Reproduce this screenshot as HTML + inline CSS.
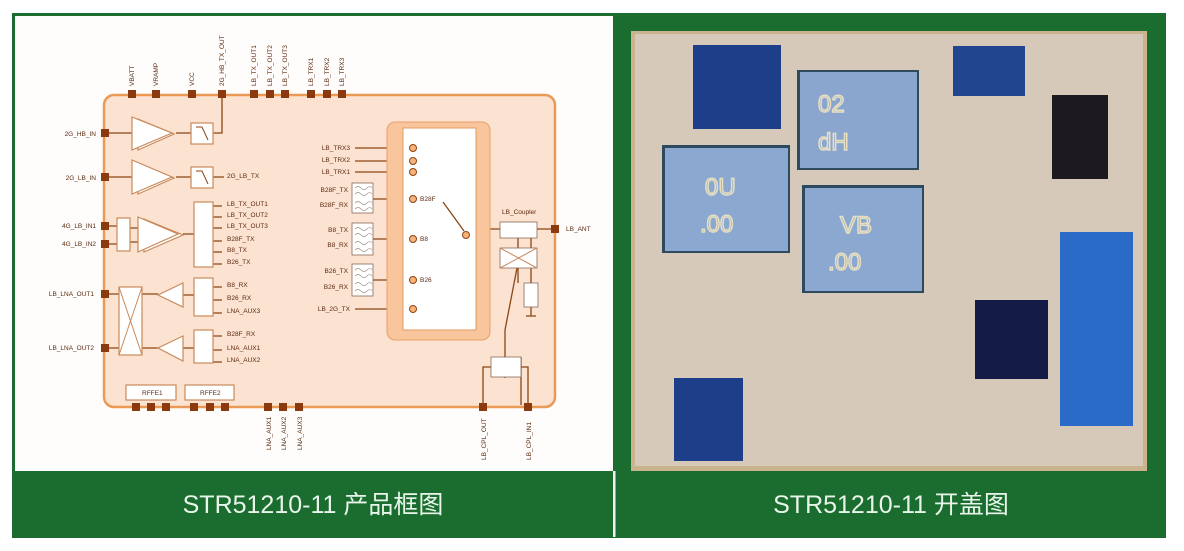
<!DOCTYPE html>
<html><head><meta charset="utf-8"><style>
html,body{margin:0;padding:0;background:#fff;width:1184px;height:551px;overflow:hidden}
svg{display:block}
.t{font-family:"Liberation Sans",sans-serif;font-size:6.5px;fill:#5a2a10}
.cap{font-family:"Liberation Sans","Noto Sans CJK SC",sans-serif;font-size:25px;fill:#e8f5ea}
</style></head><body>
<svg width="1184" height="551" viewBox="0 0 1184 551" xmlns="http://www.w3.org/2000/svg">
<rect x="0" y="0" width="1184" height="551" fill="#fff"/>
<rect x="12" y="13" width="1154" height="525" fill="#1b6d2f"/>
<rect x="15" y="16" width="598" height="455" fill="#fffdfb"/>
<rect x="613" y="471" width="2.5" height="66" fill="#f4f4f4"/>
<text class="cap" x="313" y="513" text-anchor="middle">STR51210-11 产品框图</text>
<text class="cap" x="891" y="513" text-anchor="middle">STR51210-11 开盖图</text>

<!-- photo -->
<rect x="631" y="31" width="516" height="440" fill="#c9b48f"/>
<rect x="635" y="34" width="508" height="432" fill="#d6c9b9"/>
<rect x="693" y="45" width="88" height="84" fill="#1d3f8a"/>
<rect x="797" y="70" width="122" height="100" fill="#2d4a5e"/>
<rect x="800" y="72" width="117" height="96" fill="#8aa6cf"/>
<rect x="662" y="145" width="128" height="108" fill="#2d4a5e"/>
<rect x="665" y="148" width="123" height="103" fill="#8ba8d0"/>
<rect x="802" y="185" width="122" height="108" fill="#2d4a5e"/>
<rect x="805" y="188" width="117" height="103" fill="#8ba8d0"/>
<rect x="953" y="46" width="72" height="50" fill="#22458f"/>
<rect x="1052" y="95" width="56" height="84" fill="#1c1a1e"/>
<rect x="1060" y="232" width="73" height="194" fill="#2a6bc7"/>
<rect x="975" y="300" width="73" height="79" fill="#141b47"/>
<rect x="674" y="378" width="69" height="83" fill="#1d3f8a"/>
<g font-family="Liberation Sans,sans-serif" font-size="24" fill="none" stroke="#e8dfc0" stroke-width="1.5">
<text x="818" y="112">02</text><text x="818" y="150">dH</text>
<text x="705" y="195">0U</text><text x="700" y="232">.00</text>
<text x="840" y="233">VB</text><text x="828" y="270">.00</text>
</g>

<!-- chip -->
<rect x="104" y="95" width="451" height="312" rx="10" fill="#fce2d1" stroke="#ea9a55" stroke-width="2.5"/>
<g fill="#8b3a10">
<rect x="128" y="90" width="8" height="8"/><rect x="152" y="90" width="8" height="8"/><rect x="188" y="90" width="8" height="8"/><rect x="218" y="90" width="8" height="8"/>
<rect x="250" y="90" width="8" height="8"/><rect x="266" y="90" width="8" height="8"/><rect x="281" y="90" width="8" height="8"/>
<rect x="307" y="90" width="8" height="8"/><rect x="323" y="90" width="8" height="8"/><rect x="338" y="90" width="8" height="8"/>
<rect x="101" y="129" width="8" height="8"/><rect x="101" y="173" width="8" height="8"/><rect x="101" y="222" width="8" height="8"/><rect x="101" y="240" width="8" height="8"/><rect x="101" y="290" width="8" height="8"/><rect x="101" y="344" width="8" height="8"/>
<rect x="132" y="403" width="8" height="8"/><rect x="147" y="403" width="8" height="8"/><rect x="162" y="403" width="8" height="8"/><rect x="190" y="403" width="8" height="8"/><rect x="206" y="403" width="8" height="8"/><rect x="221" y="403" width="8" height="8"/>
<rect x="264" y="403" width="8" height="8"/><rect x="279" y="403" width="8" height="8"/><rect x="295" y="403" width="8" height="8"/>
<rect x="479" y="403" width="8" height="8"/><rect x="524" y="403" width="8" height="8"/>
<rect x="551" y="225" width="8" height="8"/>
</g>
<g stroke="#8b4513" stroke-width="1.3" fill="none">
<path d="M109 133H132M176 133H191M213 133H222V98"/>
<path d="M109 177H132M176 177H191M213 177H224"/>
<path d="M109 226H117M109 244H117M130 228H138M130 242H138M183 234H194"/>
<path d="M213 206H222M213 217H222M213 228H222M213 241H222M213 252H222M213 264H222"/>
<path d="M109 294H158M183 295H194M213 287H222M213 300H222M213 313H222"/>
<path d="M109 348H158M183 348H194M213 336H222M213 350H222M213 362H222"/>
<path d="M355 148H413M355 161H413M355 172H413M373 199H413M373 239H413M373 280H413M355 309H413"/>
<path d="M490 229H551M518 238V248M518 268V283M531 238V283M531 307V316M526 316H536"/>
<path d="M521 357V405M505 357L491 372M491 367H483V405M521 367H528V405"/>
<path d="M505 378V330M505 330L517 268"/>
</g>
<g fill="#fff" stroke="#c98a5c" stroke-width="1.2">
<path d="M138 119L174 134L138 150Z"/><path d="M132 117L172 133L132 150Z"/>
<path d="M138 163L174 178L138 194Z"/><path d="M132 160L172 177L132 194Z"/>
<path d="M144 219L183 235L144 252Z"/><path d="M138 217L178 234L138 252Z"/>
<path d="M183 283L158 295L183 307Z"/><path d="M183 336L158 348L183 361Z"/>
<rect x="191" y="123" width="22" height="21"/><rect x="191" y="167" width="22" height="21"/>
<rect x="117" y="218" width="13" height="33"/><rect x="194" y="202" width="19" height="65"/>
<rect x="194" y="278" width="19" height="38"/><rect x="194" y="330" width="19" height="33"/>
<rect x="119" y="287" width="23" height="68"/>
<rect x="126" y="385" width="50" height="15"/><rect x="185" y="385" width="49" height="15"/>
</g>
<path d="M119 287L142 355M142 287L119 355" stroke="#c98a5c" fill="none"/>
<path d="M196 127H202L208 140M196 171H202L208 184" stroke="#8b4513" fill="none"/>
<rect x="387" y="122" width="103" height="218" rx="8" fill="#f8c59c" stroke="#eaa06a"/>
<rect x="403" y="128" width="73" height="202" fill="#fff" stroke="#e39a5e"/>
<g fill="#f7b27a" stroke="#8b4513" stroke-width="1">
<circle cx="413" cy="148" r="3.5"/><circle cx="413" cy="161" r="3.5"/><circle cx="413" cy="172" r="3.5"/>
<circle cx="413" cy="199" r="3.5"/><circle cx="413" cy="239" r="3.5"/><circle cx="413" cy="280" r="3.5"/><circle cx="413" cy="309" r="3.5"/>
<circle cx="466" cy="235" r="3.5"/>
</g>
<path d="M464 231L443 202" stroke="#8b4513" stroke-width="1.3"/>
<g fill="#fff" stroke="#8b6a55" stroke-width="0.8">
<rect x="352" y="183" width="21" height="30"/><rect x="352" y="223" width="21" height="32"/><rect x="352" y="264" width="21" height="32"/>
<rect x="500" y="222" width="37" height="16"/><rect x="500" y="248" width="37" height="20"/>
<rect x="524" y="283" width="14" height="24"/><rect x="491" y="357" width="30" height="20"/>
</g>
<path d="M500 248L537 268M537 248L500 268" stroke="#c98a5c" fill="none"/>
<g fill="none" stroke="#9a8a80" stroke-width="0.6">
<path d="M355 188q3-3 6 0t6 0t5 0M355 194q3-3 6 0t6 0t5 0M355 203q3-3 6 0t6 0t5 0M355 209q3-3 6 0t6 0t5 0"/>
<path d="M355 229q3-3 6 0t6 0t5 0M355 235q3-3 6 0t6 0t5 0M355 243q3-3 6 0t6 0t5 0M355 250q3-3 6 0t6 0t5 0"/>
<path d="M355 270q3-3 6 0t6 0t5 0M355 276q3-3 6 0t6 0t5 0M355 284q3-3 6 0t6 0t5 0M355 291q3-3 6 0t6 0t5 0"/>
</g>
<g class="t">
<text transform="translate(134,86) rotate(-90)">VBATT</text>
<text transform="translate(158,86) rotate(-90)">VRAMP</text>
<text transform="translate(194,86) rotate(-90)">VCC</text>
<text transform="translate(224,86) rotate(-90)">2G_HB_TX_OUT</text>
<text transform="translate(256,86) rotate(-90)">LB_TX_OUT1</text>
<text transform="translate(272,86) rotate(-90)">LB_TX_OUT2</text>
<text transform="translate(287,86) rotate(-90)">LB_TX_OUT3</text>
<text transform="translate(313,86) rotate(-90)">LB_TRX1</text>
<text transform="translate(329,86) rotate(-90)">LB_TRX2</text>
<text transform="translate(344,86) rotate(-90)">LB_TRX3</text>
<text x="96" y="136" text-anchor="end">2G_HB_IN</text>
<text x="96" y="180" text-anchor="end">2G_LB_IN</text>
<text x="96" y="228" text-anchor="end">4G_LB_IN1</text>
<text x="96" y="246" text-anchor="end">4G_LB_IN2</text>
<text x="94" y="296" text-anchor="end">LB_LNA_OUT1</text>
<text x="94" y="350" text-anchor="end">LB_LNA_OUT2</text>
<text transform="translate(271,450) rotate(-90)">LNA_AUX1</text>
<text transform="translate(286,450) rotate(-90)">LNA_AUX2</text>
<text transform="translate(302,450) rotate(-90)">LNA_AUX3</text>
<text transform="translate(486,460) rotate(-90)">LB_CPL_OUT</text>
<text transform="translate(531,460) rotate(-90)">LB_CPL_IN1</text>
<text x="566" y="231">LB_ANT</text>
<text x="227" y="178">2G_LB_TX</text>
<text x="227" y="206">LB_TX_OUT1</text><text x="227" y="217">LB_TX_OUT2</text><text x="227" y="228">LB_TX_OUT3</text>
<text x="227" y="241">B28F_TX</text><text x="227" y="252">B8_TX</text><text x="227" y="264">B26_TX</text>
<text x="227" y="287">B8_RX</text><text x="227" y="300">B26_RX</text><text x="227" y="313">LNA_AUX3</text>
<text x="227" y="336">B28F_RX</text><text x="227" y="350">LNA_AUX1</text><text x="227" y="362">LNA_AUX2</text>
<text x="350" y="150" text-anchor="end">LB_TRX3</text><text x="350" y="162" text-anchor="end">LB_TRX2</text><text x="350" y="174" text-anchor="end">LB_TRX1</text>
<text x="348" y="192" text-anchor="end">B28F_TX</text><text x="348" y="207" text-anchor="end">B28F_RX</text>
<text x="348" y="232" text-anchor="end">B8_TX</text><text x="348" y="247" text-anchor="end">B8_RX</text>
<text x="348" y="273" text-anchor="end">B26_TX</text><text x="348" y="289" text-anchor="end">B26_RX</text>
<text x="350" y="311" text-anchor="end">LB_2G_TX</text>
<text x="420" y="201">B28F</text><text x="420" y="241">B8</text><text x="420" y="282">B26</text>
<text x="502" y="214">LB_Coupler</text>
<text x="142" y="395">RFFE1</text><text x="200" y="395">RFFE2</text>
</g>
</svg>
</body></html>
